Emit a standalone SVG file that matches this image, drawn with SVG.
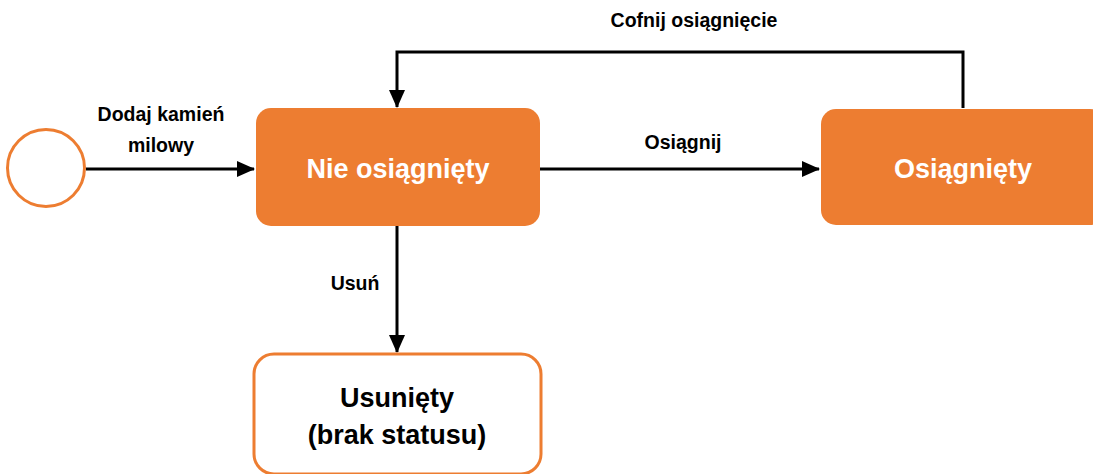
<svg xmlns="http://www.w3.org/2000/svg" width="1093" height="474" viewBox="0 0 1093 474">
<defs>
<style>
.lbl{font-family:"Liberation Sans",Arial,sans-serif;font-weight:bold;font-size:19.5px;fill:#000;text-anchor:middle}
.big{font-family:"Liberation Sans",Arial,sans-serif;font-weight:bold;font-size:27px;text-anchor:middle}
.edge{stroke:#000;stroke-width:3;fill:none}
</style>
<marker id="ah" markerWidth="18" markerHeight="16" refX="17" refY="8" orient="auto" markerUnits="userSpaceOnUse" viewBox="0 0 18 16">
<path d="M0,0 L18,8 L0,16 Z" fill="#000"/>
</marker>
</defs>
<rect width="1093" height="474" fill="#fff"/>
<g id="connectors">
<line class="edge" x1="86" y1="169" x2="254" y2="169" marker-end="url(#ah)"/>
<line class="edge" x1="540" y1="169" x2="819" y2="169" marker-end="url(#ah)"/>
<polyline class="edge" points="963,108 963,52 397,52 397,107" marker-end="url(#ah)"/>
<line class="edge" x1="397" y1="226" x2="397" y2="352" marker-end="url(#ah)"/>
<text class="lbl" x="161" y="121">Dodaj kamień</text>
<text class="lbl" x="161" y="152">milowy</text>
<text class="lbl" x="683" y="149">Osiągnij</text>
<text class="lbl" x="694" y="27">Cofnij osiągnięcie</text>
<text class="lbl" x="355" y="290">Usuń</text>
</g>
<g id="start">
<circle cx="46" cy="168" r="38.5" fill="#fff" stroke="#ED7D31" stroke-width="3"/>
</g>
<g id="nie-osiagniety">
<rect x="256" y="108" width="284" height="118" rx="15" fill="#ED7D31"/>
<text class="big" x="398" y="178" fill="#fff">Nie osiągnięty</text>
</g>
<g id="osiagniety">
<rect x="821" y="109" width="284" height="116" rx="15" fill="#ED7D31"/>
<text class="big" x="963" y="178" fill="#fff">Osiągnięty</text>
</g>
<g id="usuniety">
<rect x="254" y="354" width="287" height="120" rx="20" fill="#fff" stroke="#ED7D31" stroke-width="3"/>
<text class="big" x="397" y="407" fill="#000">Usunięty</text>
<text class="big" x="397" y="444" fill="#000">(brak statusu)</text>
</g>
</svg>
